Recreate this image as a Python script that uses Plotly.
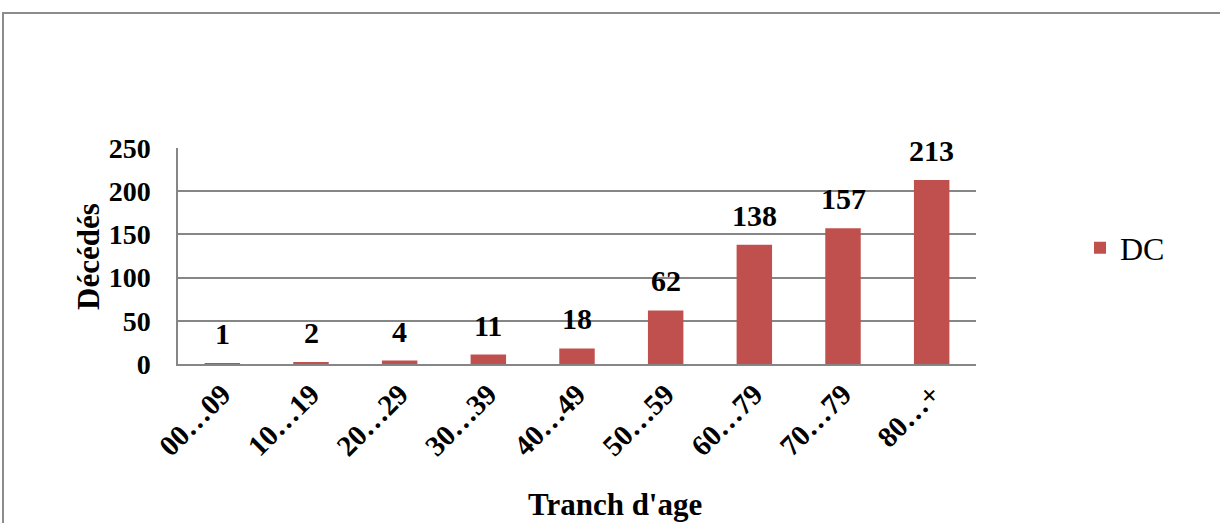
import plotly.graph_objects as go

# Data
age_groups = ["00…09", "10…19", "20…29", "30…39", "40…49",
              "50…59", "60…79", "70…79", "80…+"]
deaths = [1, 2, 4, 11, 18, 62, 138, 157, 213]
y_ticks = [0, 50, 100, 150, 200, 250]

BAR = "#C0504D"
GRID = "#868686"
TEXT = "#000000"
SERIF = "Liberation Serif, Times New Roman, serif"

W, H = 1220, 523
L, R, T, B = 178, 244, 148, 159
pw, ph = W - L - R, H - T - B


def px_x(x):
    return (x - L) / pw


def px_y(y):
    return (H - B - y) / ph


fig = go.Figure(go.Bar(
    x=age_groups, y=deaths, name="DC",
    marker=dict(color=BAR, line=dict(width=0)),
    width=0.4,
))

# value labels above bars
for cat, v in zip(age_groups, deaths):
    fig.add_annotation(x=cat, y=v, text=f"<b>{v}</b>", showarrow=False,
                       yanchor="bottom", yshift=11,
                       font=dict(family=SERIF, size=30, color=TEXT))

# axis titles
fig.add_annotation(x=px_x(615), y=px_y(504), xref="paper", yref="paper",
                   xanchor="center", yanchor="middle",
                   text="<b>Tranch d'age</b>", showarrow=False,
                   font=dict(family=SERIF, size=31, color=TEXT))
fig.add_annotation(x=px_x(88), y=px_y(257), xref="paper", yref="paper",
                   xanchor="center", yanchor="middle",
                   text="<b>Décédés</b>", textangle=-90, showarrow=False,
                   font=dict(family=SERIF, size=31, color=TEXT))

# outer chart frame (cropped at right and bottom)
fig.add_shape(type="rect", xref="paper", yref="paper",
              x0=px_x(3), x1=px_x(1240), y0=px_y(540), y1=px_y(13),
              line=dict(color="#8c8c8c", width=2))

fig.update_layout(
    width=W, height=H,
    margin=dict(l=L, r=R, t=T, b=B),
    paper_bgcolor="white", plot_bgcolor="white",
    font=dict(family=SERIF, color=TEXT),
    showlegend=True,
    legend=dict(x=px_x(1080), y=px_y(248), xanchor="left", yanchor="middle",
                font=dict(family=SERIF, size=32, color=TEXT),
                itemwidth=30, bgcolor="rgba(0,0,0,0)"),
    xaxis=dict(tickangle=-45, showline=True, linecolor=GRID, linewidth=1.5,
               showgrid=False, ticks="",
               tickfont=dict(family=SERIF, size=29, color=TEXT, weight="bold")),
    yaxis=dict(range=[0, 250], tickvals=y_ticks, showline=True,
               linecolor=GRID, linewidth=1.5, gridcolor=GRID, gridwidth=1.5,
               zeroline=False, ticks="", ticklabelstandoff=20,
               tickfont=dict(family=SERIF, size=28, color=TEXT, weight="bold")),
)

fig.write_html("out.html", config={"displayModeBar": False},
               post_script="document.body.style.margin='0';")
